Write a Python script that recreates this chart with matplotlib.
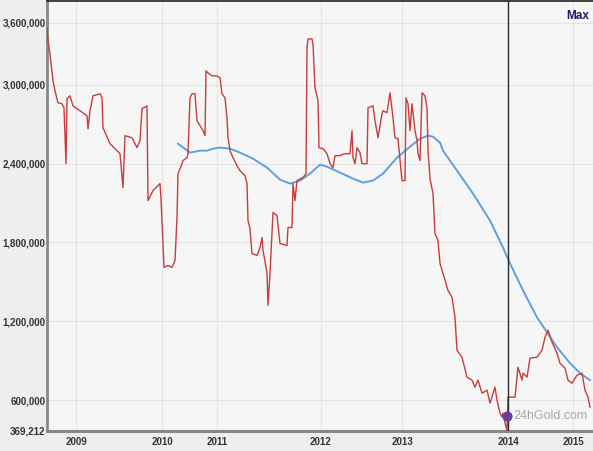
import matplotlib
matplotlib.use("Agg")
import matplotlib.pyplot as plt
from matplotlib.ticker import FixedLocator, FixedFormatter

# x = point index along the axis, values in thousands
price_x = [0, 1, 3, 6, 8, 11, 15, 17, 19, 20, 23, 26, 33, 40, 41, 43, 46, 53, 55, 56,
           63, 73, 76, 78, 85, 90, 93, 95, 100, 101, 106, 113, 114, 116, 117, 121, 125,
           128, 130, 131, 135, 136, 140, 141, 143, 145, 148, 150, 153, 156, 158, 159,
           161, 165, 170, 173, 175, 178, 180, 181, 183, 186, 190, 193, 198, 200, 201,
           203, 205, 210, 213, 215, 216, 220, 221, 223, 226, 230, 233, 240, 241, 245,
           246, 248, 250, 256, 259, 260, 261, 265, 266, 268, 271, 272, 276, 280, 283,
           286, 288, 293, 298, 303, 305, 306, 308, 310, 313, 315, 320, 321, 326, 328,
           331, 335, 336, 340, 343, 346, 348, 351, 355, 358, 359, 361, 363, 365, 368,
           370, 371, 373, 375, 378, 380, 381, 383, 386, 388, 391, 393, 396, 401, 405,
           408, 410, 415, 420, 425, 428, 431, 435, 440, 443, 448, 450, 453, 455, 456,
           458, 460, 461, 468, 471, 475, 476, 480, 483, 490, 495, 498, 501, 505, 510,
           513, 518, 521, 525, 530, 535, 538, 541, 543]
price_k = [3433, 3334, 3235, 3030, 2954, 2863, 2856, 2825, 2400, 2894, 2916, 2840, 2803,
           2765, 2666, 2803, 2916, 2932, 2901, 2673, 2552, 2476, 2218, 2613, 2597, 2522,
           2575, 2818, 2840, 2119, 2195, 2248, 2134, 1792, 1610, 1625, 1610, 1663, 1990,
           2324, 2400, 2423, 2446, 2476, 2901, 2932, 2932, 2727, 2689, 2651, 2613, 3106,
           3091, 3068, 3068, 3053, 2932, 2901, 2749, 2597, 2499, 2446, 2385, 2347, 2309,
           2248, 1967, 1906, 1716, 1701, 1762, 1838, 1739, 1572, 1322, 1565, 2028, 2005,
           1792, 1777, 1914, 1914, 2248, 2119, 2271, 2294, 2324, 3281, 3349, 3349, 3311,
           2977, 2879, 2522, 2514, 2476, 2400, 2370, 2461, 2461, 2476, 2476, 2651, 2446,
           2400, 2522, 2484, 2400, 2400, 2825, 2840, 2727, 2597, 2780, 2803, 2787, 2939,
           2749, 2597, 2590, 2271, 2271, 2901, 2856, 2651, 2856, 2651, 2575, 2476, 2423,
           2939, 2916, 2825, 2499, 2286, 2172, 1868, 1815, 1641, 1565, 1435, 1382, 1230,
           980, 927, 775, 752, 699, 752, 653, 676, 577, 699, 600, 501, 471, 501, 425,
           369.212, 623, 623, 851, 752, 805, 775, 919, 927, 980, 1078, 1132, 1041, 957,
           881, 843, 752, 729, 790, 805, 676, 623, 547]

avg_x = [131, 143, 153, 160, 166, 173, 183, 193, 206, 220, 233, 243, 253, 263, 273, 280,
         293, 306, 316, 326, 336, 350, 363, 373, 381, 386, 393, 396, 410, 426, 443, 456,
         463, 476, 490, 500, 510, 523, 533, 543]
avg_k = [2552, 2484, 2499, 2499, 2514, 2522, 2514, 2484, 2438, 2370, 2278, 2248, 2271,
         2324, 2392, 2377, 2332, 2286, 2256, 2271, 2324, 2446, 2529, 2590, 2613, 2605,
         2560, 2499, 2347, 2172, 1967, 1762, 1641, 1435, 1230, 1116, 1003, 881, 805, 752]

years = ["2009", "2010", "2011", "2012", "2013", "2014", "2015"]
year_pos = [29, 115, 170, 274, 355, 461, 526]

ytick_vals = [369212, 600000, 1200000, 1800000, 2400000, 3000000, 3471000]
ytick_labels = ["369,212", "600,000", "1,200,000", "1,800,000", "2,400,000",
                "3,000,000", "3,600,000"]

fig = plt.figure(figsize=(5.93, 4.51), dpi=100, facecolor="#eeeeee")
ax = fig.add_axes([47 / 593, 20 / 451, 546 / 593, 430 / 451])
ax.set_facecolor("#f6f6f6")

for v in ytick_vals[1:]:
    ax.axhline(v, color="#e4e4e4", lw=0.8, zorder=0)
for p in year_pos:
    ax.axvline(p, color="#e4e4e4", lw=0.8, zorder=0)

ax.plot(avg_x, [v * 1000 for v in avg_k], color="#5f9fdb", lw=1.4, zorder=2)
ax.plot(price_x, [v * 1000 for v in price_k], color="#c93c3c", lw=1.0, zorder=3)

ax.axvline(year_pos[5], color="#2a2a2a", lw=1.0, zorder=4)

ax.set_xlim(0, 546)
ax.set_ylim(365000, 3638000)

ax.yaxis.set_major_locator(FixedLocator(ytick_vals))
ax.yaxis.set_major_formatter(FixedFormatter(ytick_labels))
ax.set_xticks(year_pos)
ax.set_xticklabels(years)
ax.tick_params(length=0, pad=1, labelsize=7, labelcolor="#333333")
for lab in ax.get_xticklabels() + ax.get_yticklabels():
    lab.set_fontfamily("Liberation Sans")
    lab.set_fontweight("bold")
ax.tick_params(axis="x", pad=4)

ax.spines["right"].set_visible(False)
ax.spines["top"].set_color("#222222")
ax.spines["top"].set_linewidth(1.2)
ax.spines["left"].set_color("#888888")
ax.spines["left"].set_linewidth(2)
ax.spines["bottom"].set_color("#888888")
ax.spines["bottom"].set_linewidth(2.2)

ax.text(0.993, 0.965, "Max", transform=ax.transAxes, ha="right", va="center",
        fontsize=8.5, fontweight="bold", color="#1c1c6a", family="Liberation Sans")
ax.text(0.99, 0.035, "24hGold.com", transform=ax.transAxes, ha="right", va="center",
        fontsize=9, color="#a8a8a8", family="Liberation Sans")
ax.scatter([0.843], [0.035], s=40, color="#6a3d9a", transform=ax.transAxes,
           zorder=5, clip_on=False)

fig.savefig("out.png", dpi=100, facecolor=fig.get_facecolor())
